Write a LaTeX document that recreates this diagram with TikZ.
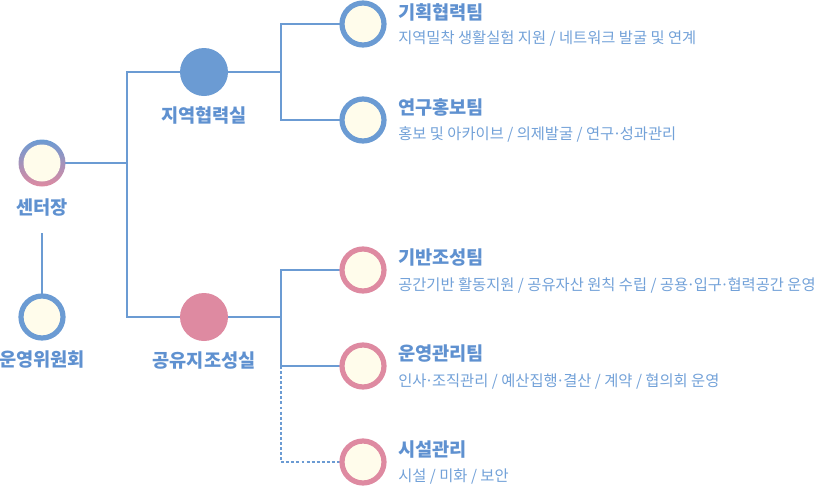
\documentclass[tikz,border=0pt]{standalone}
\usepackage{fontspec}
\newfontfamily\kr{Noto Sans CJK KR}
\usetikzlibrary{backgrounds}
\definecolor{cblue}{HTML}{6B9BD3}
\definecolor{cpink}{HTML}{DE8AA1}
\definecolor{ccream}{HTML}{FFFCEB}
\definecolor{ctitle}{HTML}{5F91D0}
\definecolor{csub}{HTML}{72A1D8}
\newcommand{\md}{\kern-0.1em·\kern-0.1em}
\begin{document}
\begin{tikzpicture}[x=0.75pt,y=-0.75pt,
  ring/.style={circle, inner sep=0, minimum size=31.5pt, line width=3.9pt, fill=ccream},
  bluering/.style={ring, draw=cblue},
  pinkring/.style={ring, draw=cpink},
  dept/.style={circle, inner sep=0, minimum size=36pt},
  conn/.style={draw=cblue, line width=1.5pt},
  dconn/.style={draw=cblue, line width=0.9pt, dash pattern=on 2.2pt off 1.6pt},
  lbl/.style={font=\kr\bfseries\fontsize{14pt}{16pt}\selectfont, text=ctitle, inner sep=0},
  ttl/.style={lbl, anchor=west},
  sub/.style={font=\kr\fontsize{11.5pt}{13pt}\selectfont, text=csub, inner sep=0, anchor=west},
]
\useasboundingbox (0,0) rectangle (814,487);
% center
\node[circle, inner sep=0, minimum size=35.25pt, top color=cblue, bottom color=cpink] (ctr) at (42,163) {};
\node[circle, inner sep=0, minimum size=27.75pt, fill=ccream] (ctrin) at (42,163) {};
\node[lbl] (ctrl) at (42,207.5) {센터장};
% committee
\node[bluering] (com) at (42,317) {};
\node[lbl] (coml) at (42,360) {운영위원회};
% departments
\node[dept, fill=cblue] (dA) at (204,72) {};
\node[lbl] (dAl) at (204,115.5) {지역협력실};
\node[dept, fill=cpink] (dB) at (204,317) {};
\node[lbl] (dBl) at (204,361) {공유지조성실};
% teams
\node[bluering] (t1) at (363,24) {};
\node[bluering] (t2) at (363,120) {};
\node[pinkring] (t3) at (363,270) {};
\node[pinkring] (t4) at (363,366) {};
\node[pinkring] (t5) at (363,462) {};
\node[ttl] (t1a) at (398,12) {기획협력팀};
\node[sub] (t1b) at (398,38.5) {지역밀착 생활실험 지원 / 네트워크 발굴 및 연계};
\node[ttl] (t2a) at (398,107) {연구홍보팀};
\node[sub] (t2b) at (398,134) {홍보 및 아카이브 / 의제발굴 / 연구\md 성과관리};
\node[ttl] (t3a) at (398,258) {기반조성팀};
\node[sub] (t3b) at (398,285) {공간기반 활동지원 / 공유자산 원칙 수립 / 공용\md 입구\md 협력공간 운영};
\node[ttl] (t4a) at (398,354) {운영관리팀};
\node[sub] (t4b) at (398,381) {인사\md 조직관리 / 예산집행\md 결산 / 계약 / 협의회 운영};
\node[ttl] (t5a) at (398,450) {시설관리};
\node[sub] (t5b) at (398,477) {시설 / 미화 / 보안};
% junctions
\coordinate (jc) at (127,163);
\coordinate (ja) at (127,72);
\coordinate (jb) at (127,317);
\coordinate (ka) at (281,24);
\coordinate (kb) at (281,120);
\coordinate (kc) at (281,72);
\coordinate (kd) at (281,317);
\coordinate (ke) at (281,270);
\coordinate (kf) at (281,366);
\coordinate (kg) at (281,462);
\coordinate (cv) at (42,233);
\begin{pgfonlayer}{background}
\draw[conn] (ctr.center) -- (jc);
\draw[conn] (dA.center) -- (ja) -- (jb) -- (dB.center);
\draw[conn] (dA.center) -- (kc);
\draw[conn] (t1.center) -- (ka) -- (kb) -- (t2.center);
\draw[conn] (dB.center) -- (kd);
\draw[conn] (t3.center) -- (ke) -- (kf) -- (t4.center);
\draw[dconn] (kf) -- (kg) -- (t5.center);
\draw[conn] (cv) -- (com.center);
\end{pgfonlayer}
\end{tikzpicture}
\end{document}
